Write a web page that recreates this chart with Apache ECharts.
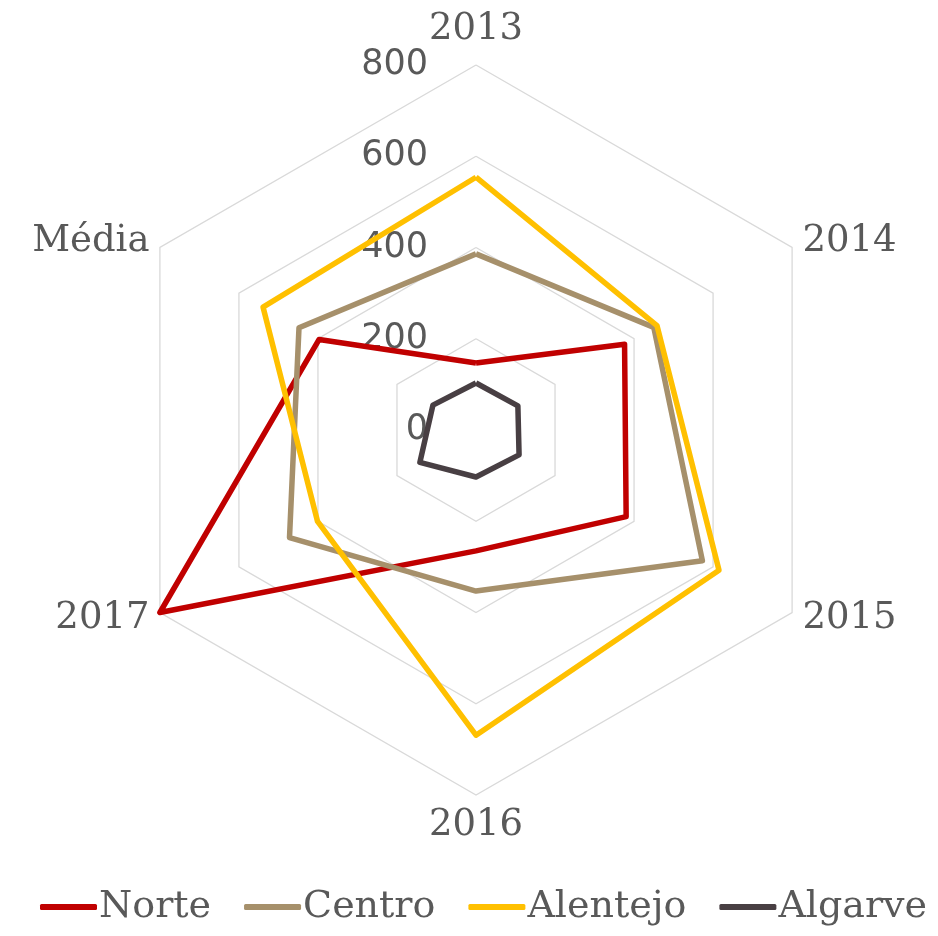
<!DOCTYPE html>
<html>
<head>
<meta charset="utf-8">
<script src="https://cdn.jsdelivr.net/npm/echarts@6/dist/echarts.min.js"></script>
<style>
  html, body { margin: 0; padding: 0; background: #fff; }
  #main { width: 938px; height: 936px; }
</style>
</head>
<body>
<div id="main"></div>
<script>
// categories go clockwise from the top, as in the picture
var categories = ["2013", "2014", "2015", "2016", "2017", "Média"];
var norte = [147, 376, 380, 265, 800, 397];
var centro = [386, 450, 573, 353, 472, 448];
var alentejo = [554, 458, 615, 669, 401, 539];
var algarve = [103, 106, 109, 103, 142, 109];
var maxValue = 800;

// echarts lays radar axes out counter-clockwise, so flip the order after the first one
function ccw(arr) {
  return [arr[0]].concat(arr.slice(1).reverse());
}

var myEchart = echarts.init(document.getElementById("main"));
var indicators = ccw(categories).map(function (c, i) {
  return {
    name: c,
    min: 0,
    max: maxValue,
    axisLabel: { show: i === 0 }
  };
});

var option = {
  animation: false,
  legend: {
    bottom: 5,
    left: 35,
    itemWidth: 57,
    itemHeight: 6,
    itemGap: 33,
    icon: "roundRect",
    textStyle: {
      fontFamily: "DejaVu Serif",
      fontSize: 38,
      color: "#595959",
      padding: [0, 0, 0, -3]
    },
    data: ["Norte", "Centro", "Alentejo", "Algarve"]
  },
  radar: {
    center: [476, 430],
    radius: 365,
    startAngle: 90,
    shape: "polygon",
    splitNumber: 4,
    indicator: indicators,
    axisName: {
      color: "#595959",
      fontFamily: "DejaVu Serif",
      fontSize: 37
    },
    nameGap: 12,
    axisLine: { show: false },
    axisTick: { show: false },
    axisLabel: {
      color: "#595959",
      fontFamily: "DejaVu Sans",
      fontSize: 35,
      margin: 48
    },
    splitLine: { lineStyle: { color: "#d9d9d9", width: 1.3 } },
    splitArea: { show: false }
  },
  series: [
    {
      type: "radar",
      symbol: "none",
      lineStyle: { width: 5.5 },
      data: [
        { name: "Norte", value: ccw(norte), itemStyle: { color: "#c00000" }, lineStyle: { color: "#c00000", width: 5.5 } },
        { name: "Centro", value: ccw(centro), itemStyle: { color: "#a6906b" }, lineStyle: { color: "#a6906b", width: 5.5 } },
        { name: "Alentejo", value: ccw(alentejo), itemStyle: { color: "#ffc000" }, lineStyle: { color: "#ffc000", width: 5.5 } },
        { name: "Algarve", value: ccw(algarve), itemStyle: { color: "#483f43" }, lineStyle: { color: "#483f43", width: 5.5 } }
      ]
    }
  ]
};
option && myEchart.setOption(option);
</script>
</body>
</html>
